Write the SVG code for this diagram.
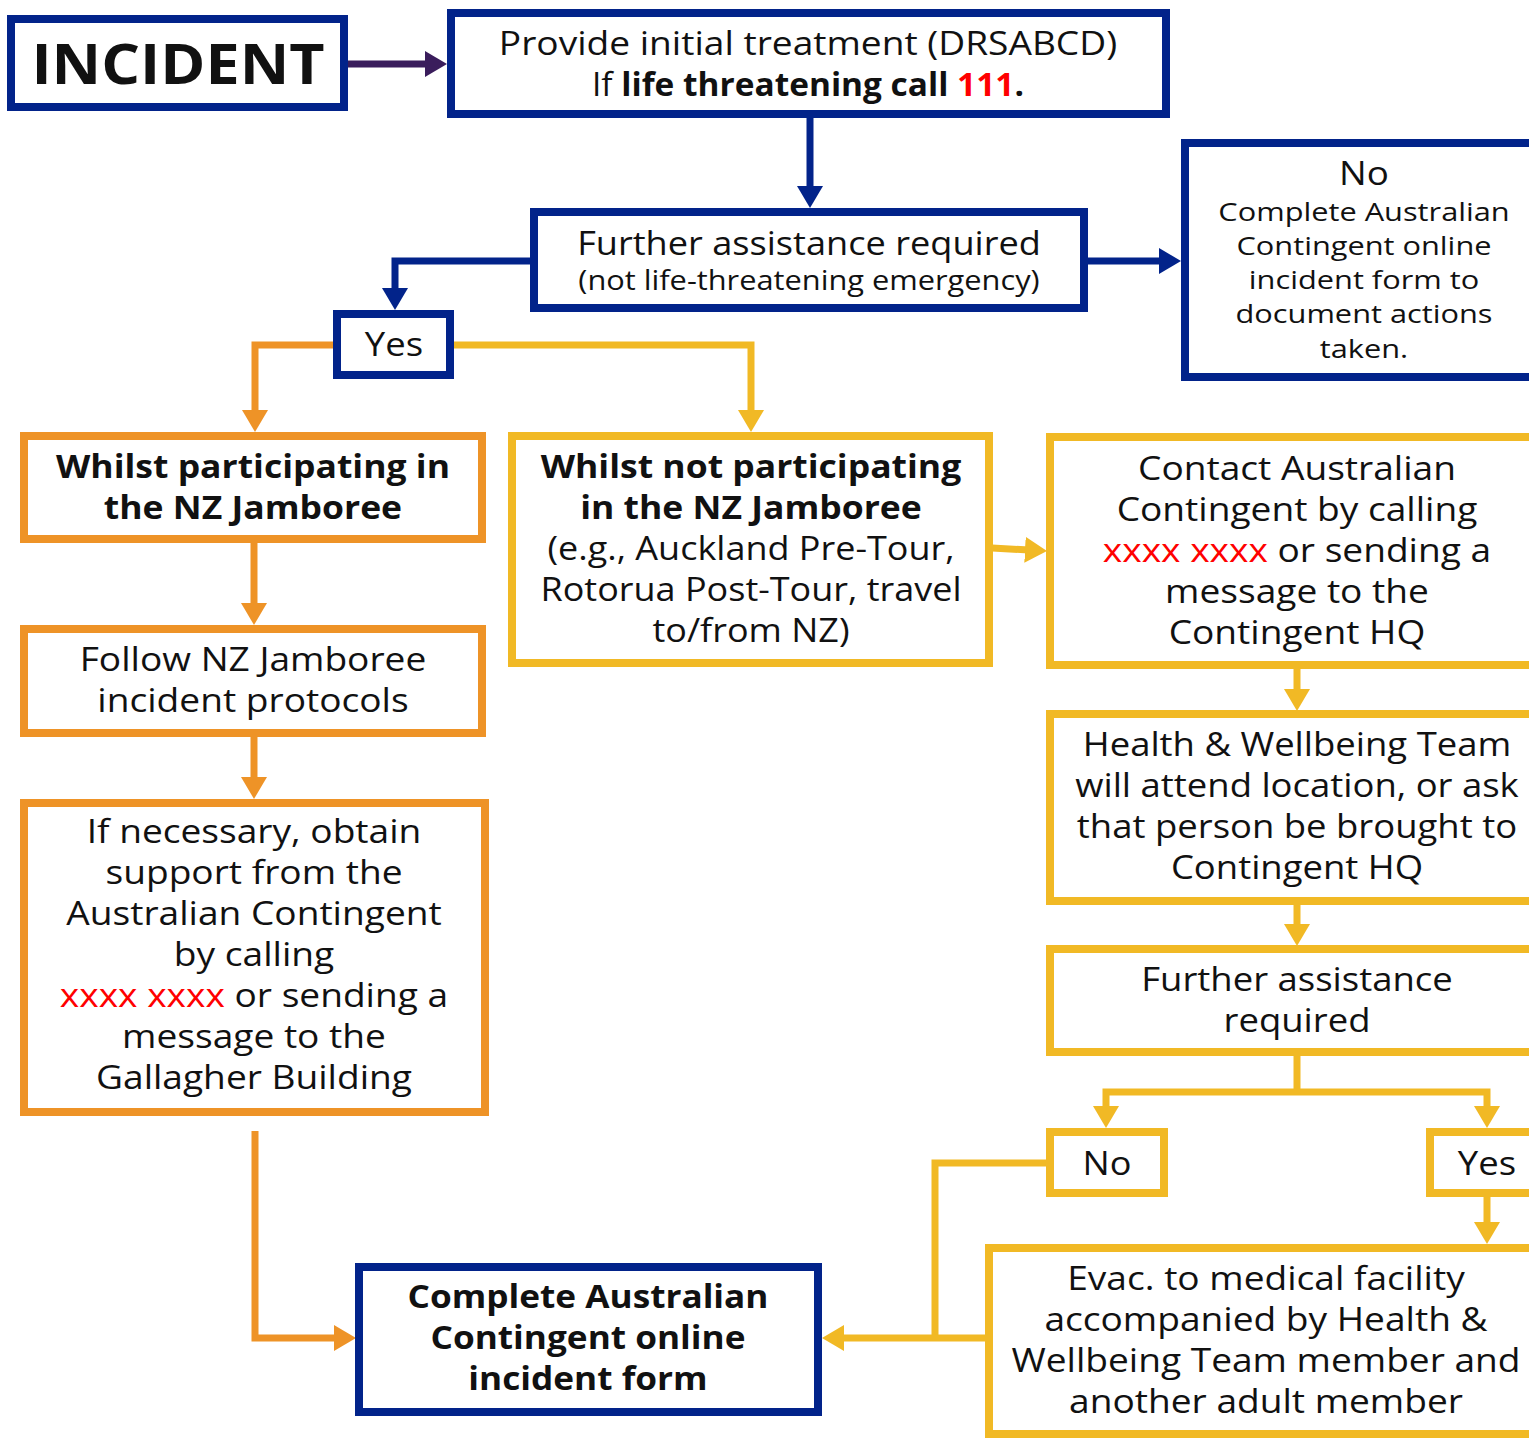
<svg xmlns="http://www.w3.org/2000/svg" width="1529" height="1440" viewBox="0 0 1529 1440">
<style>
  .box { fill: #ffffff; stroke-width: 8; }
  .navy { stroke: #02238A; }
  .orange { stroke: #EE9327; }
  .yellow { stroke: #F1B925; }
  .t { font-family: "Open Sans", "Liberation Sans", sans-serif; font-size: 32px; fill: #111111; text-anchor: middle; }
  .b { font-weight: 700; }
  .red { fill: #FF0000; }
  .conn { fill: none; stroke-width: 7; stroke-linejoin: miter; }
</style>
<defs>
  <marker id="ah-navy" markerUnits="userSpaceOnUse" markerWidth="22" markerHeight="26" viewBox="0 0 22 26" refX="4" refY="13" orient="auto"><path d="M0,0L22,13L0,26z" fill="#02238A"/></marker>
  <marker id="ah-orange" markerUnits="userSpaceOnUse" markerWidth="22" markerHeight="26" viewBox="0 0 22 26" refX="4" refY="13" orient="auto"><path d="M0,0L22,13L0,26z" fill="#EE9327"/></marker>
  <marker id="ah-yellow" markerUnits="userSpaceOnUse" markerWidth="22" markerHeight="26" viewBox="0 0 22 26" refX="4" refY="13" orient="auto"><path d="M0,0L22,13L0,26z" fill="#F1B925"/></marker>
  <marker id="ah-purple" markerUnits="userSpaceOnUse" markerWidth="22" markerHeight="26" viewBox="0 0 22 26" refX="4" refY="13" orient="auto"><path d="M0,0L22,13L0,26z" fill="#3A1D5C"/></marker>
</defs>
<rect width="1529" height="1440" fill="#ffffff"/>

<g id="connectors">
  <path class="conn" stroke="#3A1D5C" d="M348,64 H429" marker-end="url(#ah-purple)"/>
  <path class="conn navy" d="M810,118 V190" marker-end="url(#ah-navy)"/>
  <path class="conn navy" d="M1088,261 H1163" marker-end="url(#ah-navy)"/>
  <path class="conn navy" d="M531,261 H395 V292" marker-end="url(#ah-navy)"/>
  <path class="conn orange" d="M334,345 H255 V414" marker-end="url(#ah-orange)"/>
  <path class="conn yellow" d="M453,345 H751 V414" marker-end="url(#ah-yellow)"/>
  <path class="conn orange" d="M254,543 V607" marker-end="url(#ah-orange)"/>
  <path class="conn orange" d="M254,737 V781" marker-end="url(#ah-orange)"/>
  <path class="conn orange" d="M255,1131 V1338 H338" marker-end="url(#ah-orange)"/>
  <path class="conn yellow" d="M992,548 L1029,550" marker-end="url(#ah-yellow)"/>
  <path class="conn yellow" d="M1297,669 V693" marker-end="url(#ah-yellow)"/>
  <path class="conn yellow" d="M1297,905 V928" marker-end="url(#ah-yellow)"/>
  <path class="conn yellow" d="M1297,1056 V1092"/>
  <path class="conn yellow" d="M1297,1092 H1106 V1110" marker-end="url(#ah-yellow)"/>
  <path class="conn yellow" d="M1297,1092 H1487 V1110" marker-end="url(#ah-yellow)"/>
  <path class="conn yellow" d="M1487,1197 V1226" marker-end="url(#ah-yellow)"/>
  <path class="conn yellow" d="M1047,1163 H935 V1338"/>
  <path class="conn yellow" d="M986,1338 H840" marker-end="url(#ah-yellow)"/>
</g>

<g id="incident">
  <rect class="box navy" x="11" y="19" width="333" height="88"/>
  <text class="t b" x="178" y="84" style="font-size:56px" transform="matrix(1.09,0,0,1,-16.02,0)">INCIDENT</text>
</g>

<g id="initial-treatment">
  <rect class="box navy" x="451" y="13" width="715" height="101"/>
  <text class="t" x="808" y="55" transform="matrix(1.16,0,0,1,-129.28,0)">Provide initial treatment (DRSABCD)</text>
  <text class="t" x="808" y="96" transform="matrix(1.045,0,0,1,-36.36,0)">If <tspan class="b">life threatening call </tspan><tspan class="b red">111</tspan><tspan class="b">.</tspan></text>
</g>

<g id="further-assistance">
  <rect class="box navy" x="534" y="212" width="550" height="96"/>
  <text class="t" x="809" y="255" transform="matrix(1.13,0,0,1,-105.17,0)">Further assistance required</text>
  <text class="t" x="809" y="290" style="font-size:27px" transform="matrix(1.14,0,0,1,-113.26,0)">(not life-threatening emergency)</text>
</g>

<g id="no-top">
  <rect class="box navy" x="1185" y="143" width="360" height="234"/>
  <text class="t" x="1364" y="185" transform="matrix(1.15,0,0,1,-204.6,0)">No</text>
  <text class="t" x="1364" y="221" style="font-size:25px" transform="matrix(1.23,0,0,1,-313.72,0)">Complete Australian<tspan x="1364" dy="34">Contingent online</tspan><tspan x="1364" dy="34">incident form to</tspan><tspan x="1364" dy="34">document actions</tspan><tspan x="1364" dy="35">taken.</tspan></text>
</g>

<g id="yes-top">
  <rect class="box navy" x="337" y="314" width="113" height="61"/>
  <text class="t" x="394" y="356" transform="matrix(1.14,0,0,1,-55.16,0)">Yes</text>
</g>

<g id="participating">
  <rect class="box orange" x="24" y="436" width="458" height="103"/>
  <text class="t b" x="253" y="478" transform="matrix(1.11,0,0,1,-27.83,0)">Whilst participating in<tspan x="253" dy="41">the NZ Jamboree</tspan></text>
</g>

<g id="follow-protocols">
  <rect class="box orange" x="24" y="629" width="458" height="104"/>
  <text class="t" x="253" y="671" transform="matrix(1.16,0,0,1,-40.48,0)">Follow NZ Jamboree<tspan x="253" dy="41">incident protocols</tspan></text>
</g>

<g id="obtain-support">
  <rect class="box orange" x="24" y="803" width="461" height="309"/>
  <text class="t" x="254" y="843" transform="matrix(1.16,0,0,1,-40.64,0)">If necessary, obtain<tspan x="254" dy="41">support from the</tspan><tspan x="254" dy="41">Australian Contingent</tspan><tspan x="254" dy="41">by calling</tspan><tspan x="254" dy="41"><tspan class="red">xxxx xxxx</tspan> or sending a</tspan><tspan x="254" dy="41">message to the</tspan><tspan x="254" dy="41">Gallagher Building</tspan></text>
</g>

<g id="not-participating">
  <rect class="box yellow" x="512" y="436" width="477" height="227"/>
  <text class="t b" x="751" y="478" transform="matrix(1.11,0,0,1,-82.61,0)">Whilst not participating<tspan x="751" dy="41">in the NZ Jamboree</tspan></text>
  <text class="t" x="751" y="560" transform="matrix(1.125,0,0,1,-93.875,0)">(e.g., Auckland Pre-Tour,<tspan x="751" dy="41">Rotorua Post-Tour, travel</tspan><tspan x="751" dy="41">to/from NZ)</tspan></text>
</g>

<g id="contact-contingent">
  <rect class="box yellow" x="1050" y="437" width="490" height="228"/>
  <text class="t" x="1297" y="480" transform="matrix(1.16,0,0,1,-207.52,0)">Contact Australian<tspan x="1297" dy="41">Contingent by calling</tspan><tspan x="1297" dy="41"><tspan class="red">xxxx xxxx</tspan> or sending a</tspan><tspan x="1297" dy="41">message to the</tspan><tspan x="1297" dy="41">Contingent HQ</tspan></text>
</g>

<g id="health-team">
  <rect class="box yellow" x="1050" y="714" width="490" height="187"/>
  <text class="t" x="1297" y="756" transform="matrix(1.14,0,0,1,-181.58,0)">Health &amp; Wellbeing Team<tspan x="1297" dy="41">will attend location, or ask</tspan><tspan x="1297" dy="41">that person be brought to</tspan><tspan x="1297" dy="41">Contingent HQ</tspan></text>
</g>

<g id="further-assistance-2">
  <rect class="box yellow" x="1050" y="949" width="490" height="103"/>
  <text class="t" x="1297" y="991" transform="matrix(1.14,0,0,1,-181.58,0)">Further assistance<tspan x="1297" dy="41">required</tspan></text>
</g>

<g id="no-bottom">
  <rect class="box yellow" x="1050" y="1132" width="114" height="61"/>
  <text class="t" x="1107" y="1175" transform="matrix(1.13,0,0,1,-143.91,0)">No</text>
</g>

<g id="yes-bottom">
  <rect class="box yellow" x="1430" y="1132" width="110" height="61"/>
  <text class="t" x="1487" y="1175" transform="matrix(1.14,0,0,1,-208.18,0)">Yes</text>
</g>

<g id="evac">
  <rect class="box yellow" x="989" y="1248" width="560" height="186"/>
  <text class="t" x="1266" y="1290" transform="matrix(1.16,0,0,1,-202.56,0)">Evac. to medical facility<tspan x="1266" dy="41">accompanied by Health &amp;</tspan><tspan x="1266" dy="41">Wellbeing Team member and</tspan><tspan x="1266" dy="41">another adult member</tspan></text>
</g>

<g id="complete-form">
  <rect class="box navy" x="359" y="1267" width="459" height="145"/>
  <text class="t b" x="588" y="1308" transform="matrix(1.10,0,0,1,-58.8,0)">Complete Australian<tspan x="588" dy="41">Contingent online</tspan><tspan x="588" dy="41">incident form</tspan></text>
</g>
</svg>
